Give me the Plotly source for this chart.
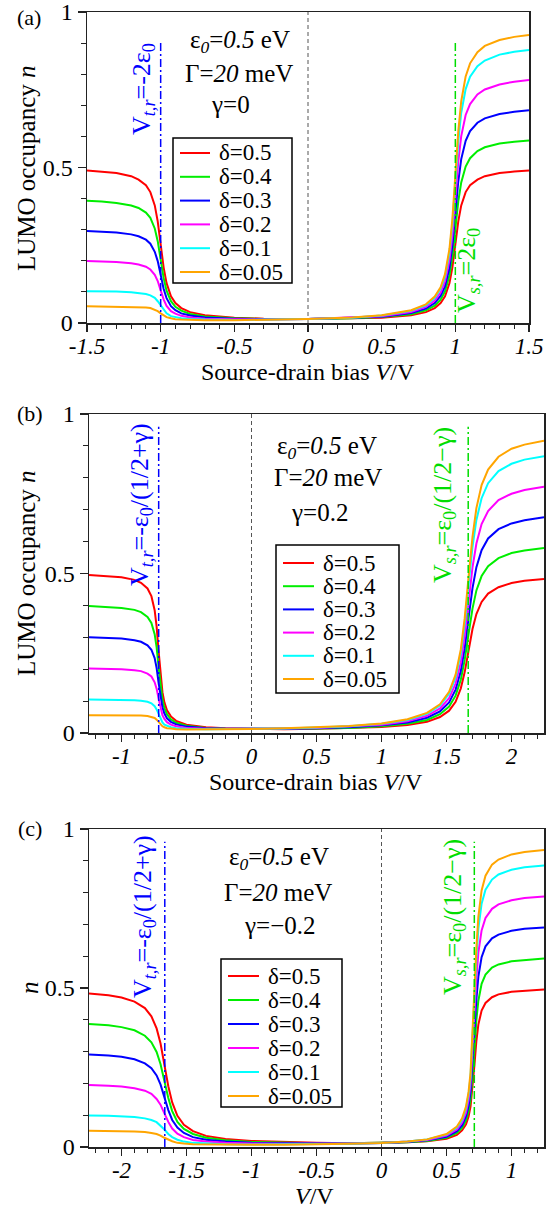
import plotly.graph_objects as go

# ---------------- data ----------------
DELTAS = [0.5, 0.4, 0.3, 0.2, 0.1, 0.05]
COLORS = ["#ff0000", "#00ee00", "#0000ff", "#ff00ff", "#00ffff", "#ffa500"]

# panel (a): gamma = 0
V_A = [-1.5, -1.4, -1.3, -1.2, -1.15, -1.1, -1.07, -1.04, -1.02, -1.0, -0.98, -0.96, -0.93,
       -0.9, -0.86, -0.8, -0.7, -0.5, -0.3, 0, 0.3, 0.5, 0.7, 0.8, 0.86, 0.9, 0.93, 0.96,
       0.98, 1.0, 1.02, 1.04, 1.07, 1.1, 1.15, 1.2, 1.3, 1.4, 1.5]
N_A_05 = [0.490, 0.487, 0.482, 0.472, 0.461, 0.443, 0.421, 0.378, 0.327, 0.253, 0.179, 0.128, 0.086,
          0.064, 0.048, 0.035, 0.025, 0.017, 0.014, 0.0127, 0.014, 0.017, 0.025, 0.035, 0.048, 0.064,
          0.086, 0.128, 0.179, 0.253, 0.327, 0.378, 0.421, 0.443, 0.461, 0.472, 0.482, 0.487, 0.490]
N_A_04 = [0.393, 0.391, 0.386, 0.378, 0.370, 0.355, 0.338, 0.304, 0.263, 0.204, 0.145, 0.104, 0.070,
          0.052, 0.040, 0.029, 0.021, 0.015, 0.013, 0.0127, 0.015, 0.019, 0.028, 0.041, 0.056, 0.075,
          0.102, 0.153, 0.214, 0.303, 0.391, 0.452, 0.503, 0.530, 0.553, 0.565, 0.577, 0.583, 0.587]
N_A_03 = [0.296, 0.294, 0.291, 0.285, 0.279, 0.268, 0.255, 0.229, 0.199, 0.155, 0.110, 0.080, 0.054,
          0.041, 0.031, 0.024, 0.018, 0.014, 0.012, 0.0127, 0.016, 0.020, 0.032, 0.046, 0.064, 0.087,
          0.118, 0.177, 0.249, 0.352, 0.455, 0.527, 0.586, 0.617, 0.644, 0.658, 0.672, 0.679, 0.684]
N_A_02 = [0.199, 0.198, 0.196, 0.192, 0.188, 0.181, 0.172, 0.155, 0.135, 0.105, 0.076, 0.055, 0.038,
          0.030, 0.023, 0.018, 0.014, 0.012, 0.011, 0.0127, 0.017, 0.022, 0.035, 0.052, 0.072, 0.098,
          0.134, 0.201, 0.283, 0.401, 0.519, 0.601, 0.669, 0.704, 0.735, 0.751, 0.767, 0.776, 0.781]
N_A_01 = [0.102, 0.102, 0.101, 0.099, 0.097, 0.093, 0.089, 0.081, 0.070, 0.056, 0.041, 0.031, 0.022,
          0.018, 0.015, 0.013, 0.011, 0.010, 0.011, 0.0127, 0.017, 0.024, 0.039, 0.057, 0.080, 0.110,
          0.149, 0.226, 0.318, 0.451, 0.583, 0.676, 0.752, 0.792, 0.826, 0.844, 0.863, 0.872, 0.878]
N_A_005 = [0.054, 0.053, 0.053, 0.052, 0.052, 0.050, 0.048, 0.043, 0.038, 0.031, 0.024, 0.019, 0.015,
           0.012, 0.011, 0.010, 0.009, 0.009, 0.010, 0.0127, 0.018, 0.025, 0.041, 0.060, 0.085, 0.115,
           0.157, 0.238, 0.335, 0.475, 0.616, 0.713, 0.793, 0.835, 0.871, 0.891, 0.910, 0.920, 0.926]

# panel (b): gamma = 0.2
V_B = [-1.25, -1.1, -1.0, -0.9, -0.85, -0.8, -0.77, -0.745, -0.73, -0.715, -0.7, -0.685, -0.67,
       -0.65, -0.62, -0.58, -0.5, -0.35, -0.2, 0, 0.25, 0.5, 0.75, 1.0, 1.2, 1.35, 1.45, 1.52,
       1.57, 1.61, 1.64, 1.67, 1.70, 1.73, 1.77, 1.82, 1.9, 2.0, 2.1, 2.25]
N_B_05 = [0.495, 0.492, 0.488, 0.480, 0.471, 0.453, 0.429, 0.385, 0.334, 0.258, 0.181, 0.128, 0.096,
          0.071, 0.052, 0.038, 0.026, 0.018, 0.015, 0.0127, 0.012, 0.013, 0.015, 0.019, 0.025, 0.035,
          0.050, 0.070, 0.098, 0.140, 0.191, 0.260, 0.326, 0.373, 0.411, 0.437, 0.457, 0.470, 0.477, 0.483]
N_B_04 = [0.398, 0.395, 0.392, 0.386, 0.379, 0.364, 0.345, 0.310, 0.269, 0.209, 0.146, 0.104, 0.078,
          0.059, 0.043, 0.032, 0.023, 0.016, 0.014, 0.0127, 0.013, 0.014, 0.016, 0.021, 0.029, 0.041,
          0.059, 0.083, 0.117, 0.167, 0.229, 0.311, 0.390, 0.447, 0.492, 0.523, 0.548, 0.564, 0.572, 0.580]
N_B_03 = [0.300, 0.298, 0.296, 0.291, 0.286, 0.275, 0.261, 0.235, 0.204, 0.159, 0.112, 0.080, 0.061,
          0.046, 0.035, 0.027, 0.020, 0.015, 0.013, 0.0127, 0.013, 0.015, 0.018, 0.024, 0.033, 0.048,
          0.068, 0.096, 0.136, 0.194, 0.266, 0.362, 0.454, 0.520, 0.573, 0.610, 0.639, 0.657, 0.667, 0.676]
N_B_02 = [0.202, 0.202, 0.200, 0.197, 0.194, 0.186, 0.177, 0.159, 0.139, 0.109, 0.078, 0.056, 0.044,
          0.034, 0.026, 0.021, 0.016, 0.013, 0.013, 0.0127, 0.014, 0.016, 0.020, 0.026, 0.037, 0.054,
          0.077, 0.109, 0.155, 0.221, 0.304, 0.414, 0.519, 0.594, 0.655, 0.696, 0.730, 0.750, 0.762, 0.772]
N_B_01 = [0.105, 0.105, 0.104, 0.103, 0.101, 0.098, 0.093, 0.084, 0.074, 0.059, 0.043, 0.033, 0.026,
          0.022, 0.018, 0.015, 0.013, 0.012, 0.012, 0.0127, 0.014, 0.017, 0.021, 0.029, 0.041, 0.060,
          0.086, 0.123, 0.173, 0.249, 0.341, 0.465, 0.583, 0.668, 0.736, 0.783, 0.821, 0.844, 0.857, 0.868]
N_B_005 = [0.056, 0.056, 0.056, 0.055, 0.055, 0.053, 0.051, 0.047, 0.042, 0.034, 0.026, 0.021, 0.018,
           0.015, 0.014, 0.012, 0.011, 0.011, 0.012, 0.0127, 0.015, 0.018, 0.022, 0.030, 0.043, 0.063,
           0.090, 0.129, 0.183, 0.262, 0.360, 0.490, 0.615, 0.705, 0.777, 0.826, 0.866, 0.891, 0.904, 0.916]

# panel (c): gamma = -0.2
V_C = [1.25, 1.1, 1.0, 0.9, 0.85, 0.8, 0.77, 0.745, 0.73, 0.715, 0.7, 0.685, 0.67, 0.65, 0.62,
       0.58, 0.5, 0.35, 0.2, 0, -0.25, -0.5, -0.75, -1.0, -1.2, -1.35, -1.45, -1.52, -1.57, -1.61,
       -1.64, -1.67, -1.70, -1.73, -1.77, -1.82, -1.9, -2.0, -2.1, -2.25]
N_C_05 = [0.495, 0.492, 0.488, 0.480, 0.471, 0.453, 0.429, 0.385, 0.334, 0.258, 0.181, 0.128, 0.096,
          0.071, 0.052, 0.038, 0.026, 0.018, 0.015, 0.0127, 0.012, 0.013, 0.015, 0.019, 0.025, 0.035,
          0.050, 0.070, 0.098, 0.140, 0.191, 0.260, 0.326, 0.373, 0.411, 0.437, 0.457, 0.470, 0.477, 0.483]
N_C_04 = [0.593, 0.589, 0.584, 0.574, 0.564, 0.542, 0.513, 0.460, 0.400, 0.308, 0.215, 0.151, 0.113,
          0.084, 0.060, 0.044, 0.029, 0.019, 0.015, 0.0127, 0.012, 0.012, 0.013, 0.016, 0.021, 0.029,
          0.041, 0.057, 0.079, 0.113, 0.154, 0.209, 0.261, 0.299, 0.329, 0.350, 0.367, 0.377, 0.383, 0.387]
N_C_03 = [0.690, 0.686, 0.680, 0.668, 0.656, 0.631, 0.597, 0.536, 0.465, 0.358, 0.249, 0.175, 0.130,
          0.096, 0.068, 0.050, 0.032, 0.021, 0.016, 0.0127, 0.011, 0.011, 0.011, 0.013, 0.017, 0.023,
          0.031, 0.044, 0.061, 0.085, 0.116, 0.157, 0.197, 0.225, 0.248, 0.263, 0.276, 0.284, 0.288, 0.291]
N_C_02 = [0.788, 0.783, 0.776, 0.763, 0.749, 0.720, 0.681, 0.611, 0.530, 0.408, 0.284, 0.199, 0.148,
          0.108, 0.077, 0.055, 0.036, 0.022, 0.017, 0.0127, 0.011, 0.010, 0.010, 0.011, 0.013, 0.017,
          0.022, 0.031, 0.042, 0.058, 0.079, 0.106, 0.133, 0.151, 0.167, 0.177, 0.185, 0.190, 0.193, 0.195]
N_C_01 = [0.885, 0.880, 0.872, 0.857, 0.841, 0.809, 0.765, 0.686, 0.595, 0.458, 0.318, 0.222, 0.165,
          0.121, 0.085, 0.061, 0.039, 0.024, 0.017, 0.0127, 0.010, 0.009, 0.008, 0.008, 0.009, 0.011,
          0.013, 0.017, 0.023, 0.031, 0.041, 0.055, 0.068, 0.078, 0.085, 0.090, 0.094, 0.097, 0.098, 0.099]
N_C_005 = [0.934, 0.928, 0.920, 0.904, 0.888, 0.853, 0.807, 0.724, 0.627, 0.483, 0.335, 0.234, 0.174,
           0.127, 0.090, 0.064, 0.041, 0.024, 0.017, 0.0127, 0.010, 0.008, 0.007, 0.007, 0.007, 0.008,
           0.009, 0.011, 0.013, 0.018, 0.023, 0.029, 0.036, 0.041, 0.044, 0.047, 0.049, 0.050, 0.051, 0.051]

# threshold voltages (dash-dot markers) and their top extent
V_T = [-1.0, -0.714, -1.667]
V_S = [1.0, 1.667, 0.714]
MARK_TOP = [0.904, 0.96, 0.96]

X_RANGES = [[-1.5, 1.5], [-1.25, 2.25], [-2.25, 1.25]]
XTICKS = [[-1.5, -1, -0.5, 0, 0.5, 1, 1.5],
          [-1, -0.5, 0, 0.5, 1, 1.5, 2],
          [-2, -1.5, -1, -0.5, 0, 0.5, 1]]
XTICKTEXT = [["-1.5", "-1", "-0.5", "0", "0.5", "1", "1.5"],
             ["-1", "-0.5", "0", "0.5", "1", "1.5", "2"],
             ["-2", "-1.5", "-1", "-0.5", "0", "0.5", "1"]]
YTICKS = [0, 0.5, 1]
YTICKTEXT = ["0", "0.5", "1"]
GAMMA_TXT = ["γ=0", "γ=0.2", "γ=−0.2"]
PANEL_TAG = ["(a)", "(b)", "(c)"]

# ---------------- layout geometry (pixels) ----------------
W, H = 554, 1209
FONT = "Liberation Serif, Times New Roman, serif"
BLUE = "#0000ff"
GREEN = "#00dd00"


def px(x):
    return x / W


def py(y):
    return 1 - y / H


DOM = [dict(x=(87, 529), y=(12, 323)),
       dict(x=(89, 544), y=(414, 733)),
       dict(x=(89, 544), y=(829, 1147))]

panels = [
    (V_A, [N_A_05, N_A_04, N_A_03, N_A_02, N_A_01, N_A_005]),
    (V_B, [N_B_05, N_B_04, N_B_03, N_B_02, N_B_01, N_B_005]),
    (V_C, [N_C_05, N_C_04, N_C_03, N_C_02, N_C_01, N_C_005]),
]

fig = go.Figure()
annotations = []
shapes = []

for i, (V, series) in enumerate(panels):
    s = "" if i == 0 else str(i + 1)
    xa, ya = "x" + s, "y" + s
    # centre dashed line
    fig.add_trace(go.Scatter(x=[0, 0], y=[0, 1], mode="lines", xaxis=xa, yaxis=ya,
                             line=dict(color="#555555", width=1, dash="4px,3px"),
                             showlegend=False, hoverinfo="skip"))
    for k, d in enumerate(DELTAS):
        fig.add_trace(go.Scatter(x=V, y=series[k], mode="lines", xaxis=xa, yaxis=ya,
                                 name=f"δ={d}", showlegend=False,
                                 line=dict(color=COLORS[k], width=2)))
    fig.add_trace(go.Scatter(x=[V_T[i], V_T[i]], y=[0, MARK_TOP[i]], mode="lines",
                             xaxis=xa, yaxis=ya, showlegend=False, hoverinfo="skip",
                             line=dict(color=BLUE, width=1.5, dash="8px,3px,2px,3px")))
    fig.add_trace(go.Scatter(x=[V_S[i], V_S[i]], y=[0, MARK_TOP[i]], mode="lines",
                             xaxis=xa, yaxis=ya, showlegend=False, hoverinfo="skip",
                             line=dict(color=GREEN, width=1.5, dash="8px,3px,2px,3px")))

    dom = DOM[i]
    axis_common = dict(showline=True, linecolor="#222222", linewidth=1.5, mirror=True,
                       ticks="outside", tickcolor="#222222", tickwidth=1.2,
                       showgrid=False, zeroline=False, automargin=False,
                       ticklabeloverflow="allow")
    fig.update_layout(**{
        "xaxis" + s: dict(axis_common, domain=[px(dom["x"][0]), px(dom["x"][1])],
                          range=X_RANGES[i], anchor=ya, ticklen=7, ticklabelstandoff=-5,
                          tickmode="array", tickvals=XTICKS[i],
                          ticktext=[f"<i>{t}</i>" for t in XTICKTEXT[i]],
                          tickfont=dict(family=FONT, size=23, color="black"),
                          minor=dict(ticks="outside", ticklen=4, dtick=0.1, tick0=0,
                                     tickcolor="#222222", tickwidth=1)),
        "yaxis" + s: dict(axis_common, domain=[py(dom["y"][1]), py(dom["y"][0])],
                          range=[0, 1], anchor=xa, ticklen=8,
                          tickmode="array", tickvals=YTICKS, ticktext=YTICKTEXT,
                          tickfont=dict(family=FONT, size=24, color="black"),
                          minor=dict(ticks="outside", ticklen=5, dtick=0.1, tick0=0,
                                     tickcolor="#222222", tickwidth=1)),
    })


def ann(x, y, text, size=24, color="black", angle=0, xanchor="center", yanchor="middle"):
    annotations.append(dict(x=px(x), y=py(y), xref="paper", yref="paper", text=text,
                            showarrow=False, textangle=angle, xanchor=xanchor,
                            yanchor=yanchor, font=dict(family=FONT, size=size, color=color)))


# panel tags
ann(29, 17, PANEL_TAG[0], size=22)
ann(30, 413, PANEL_TAG[1], size=22)
ann(30, 828, PANEL_TAG[2], size=22)

# axis titles
ann(27, 168, "LUMO occupancy <i>n</i>", size=25, angle=-90)
ann(308, 372, "Source-drain bias <i>V</i>/V", size=24)
ann(27, 573, "LUMO occupancy <i>n</i>", size=25, angle=-90)
ann(316, 782, "Source-drain bias <i>V</i>/V", size=24)
ann(29, 988, "<i>n</i>", size=25, angle=-90)
ann(314, 1196, "<i>V</i>/V", size=24)

# parameter texts
EPS = "ε<sub><i>0</i></sub>=<i>0.5</i> eV"
GAM = "Γ=<i>20</i> meV"
param_pos = [((240, 42), (239, 73), (230, 104)),
             ((327, 447), (328, 478), (319, 512)),
             ((279, 858), (278, 892), (280, 925))]
for i, (p1, p2, p3) in enumerate(param_pos):
    ann(p1[0], p1[1], EPS, size=25)
    ann(p2[0], p2[1], GAM, size=25)
    ann(p3[0], p3[1], GAMMA_TXT[i], size=25)

# rotated threshold labels
ann(143, 89, "V<sub><i>t,r</i></sub>=-2ε<sub>0</sub>", size=26, color=BLUE, angle=-90)
ann(468, 271, "V<sub><i>s,r</i></sub>=2ε<sub>0</sub>", size=26, color=GREEN, angle=-90)
ann(141, 505, "V<sub><i>t,r</i></sub>=-ε<sub>0</sub>/(1/2+γ)", size=26, color=BLUE, angle=-90)
ann(444, 505, "V<sub><i>s,r</i></sub>=ε<sub>0</sub>/(1/2−γ)", size=26, color=GREEN, angle=-90)
ann(144, 917, "V<sub><i>t,r</i></sub>=-ε<sub>0</sub>/(1/2+γ)", size=26, color=BLUE, angle=-90)
ann(454, 917, "V<sub><i>s,r</i></sub>=ε<sub>0</sub>/(1/2−γ)", size=26, color=GREEN, angle=-90)

# hand-placed legends (box, line samples, labels)
LEG = [dict(box=(173, 138, 292, 283), y0=153, dy=23.8, lx=(180, 210), tx=217),
       dict(box=(276, 545, 399, 693), y0=563, dy=23.2, lx=(283, 314), tx=321),
       dict(box=(221, 959, 342, 1107), y0=976, dy=24.0, lx=(228, 259), tx=266)]
for L in LEG:
    x0, y0, x1, y1 = L["box"]
    shapes.append(dict(type="rect", xref="paper", yref="paper", x0=px(x0), x1=px(x1),
                       y0=py(y1), y1=py(y0), line=dict(color="black", width=1.5),
                       fillcolor="white", layer="above"))
for L in LEG:
    for k, d in enumerate(DELTAS):
        yy = L["y0"] + k * L["dy"]
        shapes.append(dict(type="line", xref="paper", yref="paper", x0=px(L["lx"][0]),
                           x1=px(L["lx"][1]), y0=py(yy), y1=py(yy),
                           line=dict(color=COLORS[k], width=2), layer="above"))
        ann(L["tx"], yy, f"δ={d}", size=23, xanchor="left")

fig.update_layout(width=W, height=H, margin=dict(l=0, r=0, t=0, b=0),
                  paper_bgcolor="white", plot_bgcolor="white", showlegend=False,
                  annotations=annotations, shapes=shapes,
                  font=dict(family=FONT, color="black", size=24))

fig.write_html("out.html", config={"displayModeBar": False, "staticPlot": True},
               post_script="document.body.style.margin='0px';"
                           "document.body.style.padding='0px';"
                           "document.body.style.overflow='hidden';")
